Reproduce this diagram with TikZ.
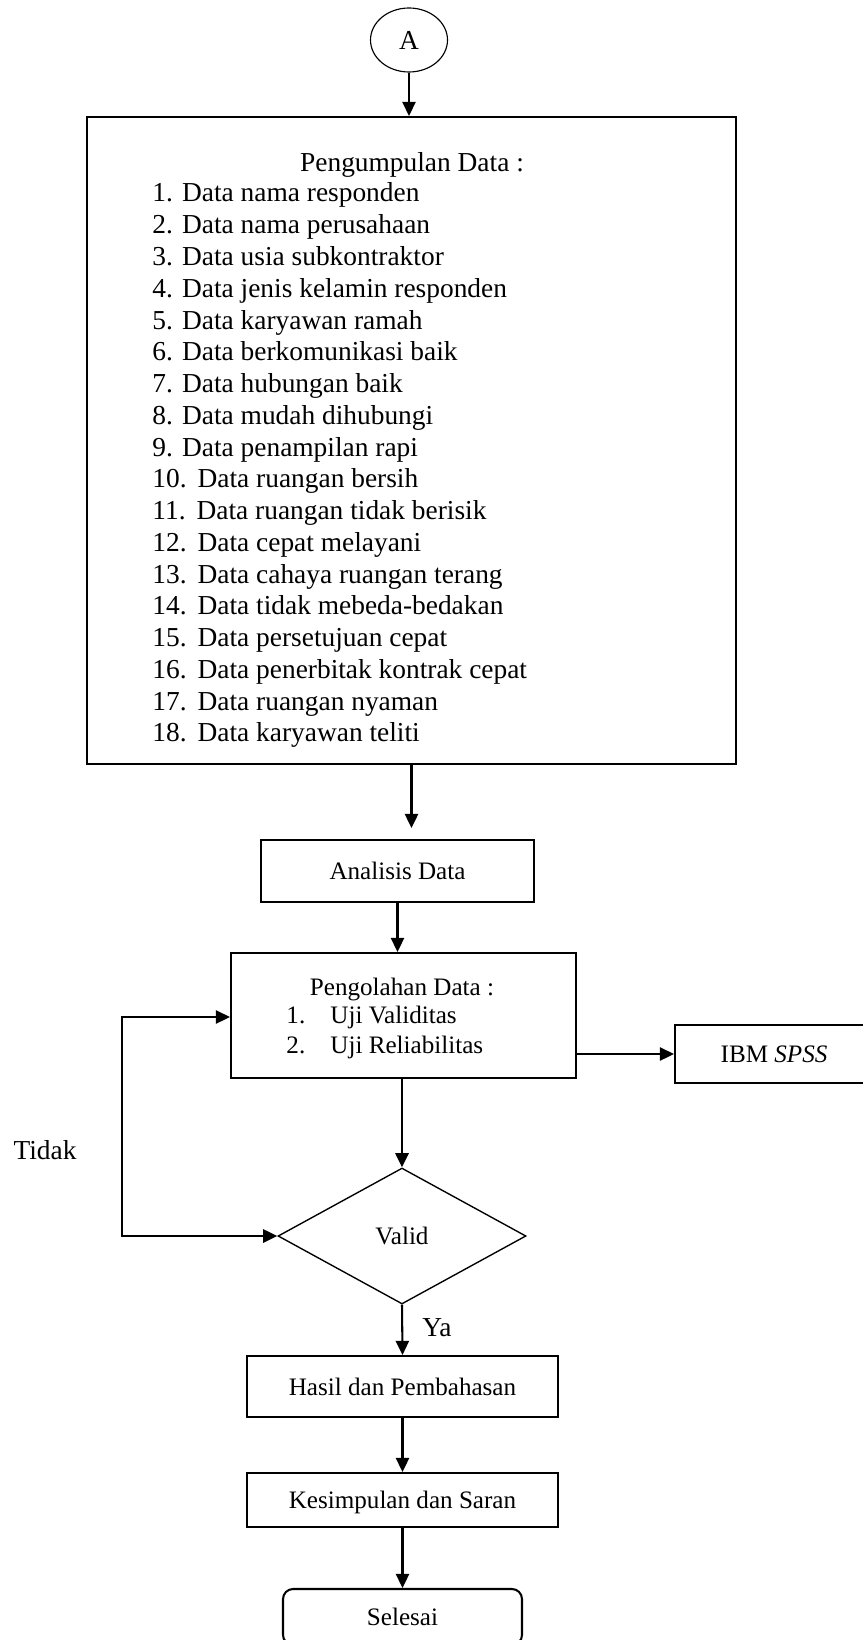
\documentclass[tikz,border=0pt]{standalone}
\usepackage{fontspec}
\setmainfont{Liberation Serif}
\usetikzlibrary{arrows.meta,shapes.geometric}
\newdimen\pxu \pxu=0.438pt
\tikzset{
  box/.style={draw, line width=0.9pt, inner sep=0pt, text depth=0pt, font=\fontsize{11}{13}\selectfont},
  arr/.style={-{Triangle[length=6.2pt,width=5.8pt]}, line width=0.9pt},
  arrboth/.style={{Triangle[length=6.2pt,width=5.8pt]}-{Triangle[length=6.2pt,width=5.8pt]}, line width=0.9pt},
  lbl/.style={anchor=base, inner sep=0pt},
  item/.style={anchor=base west, inner sep=0pt},
}
\begin{document}
\begin{tikzpicture}[x=0.438pt, y=-0.438pt, font=\fontsize{12}{14}\selectfont]
  \useasboundingbox (0,0) rectangle (863,1640);
  \node[draw, ellipse, line width=0.5pt, inner sep=0pt, minimum width=77\pxu, minimum height=64\pxu] (a) at (409,40) {A};
  \node[box, minimum width=649\pxu, minimum height=647\pxu] (data) at (411.5,440.5) {};
  \node[lbl] (datatitle) at (412,172) {Pengumpulan Data :};
  \node[item] (it1) at (152,202) {1. Data nama responden};
  \node[item] (it2) at (152,233.8) {2. Data nama perusahaan};
  \node[item] (it3) at (152,265.5) {3. Data usia subkontraktor};
  \node[item] (it4) at (152,297.3) {4. Data jenis kelamin responden};
  \node[item] (it5) at (152,329) {5. Data karyawan ramah};
  \node[item] (it6) at (152,360.8) {6. Data berkomunikasi baik};
  \node[item] (it7) at (152,392.6) {7. Data hubungan baik};
  \node[item] (it8) at (152,424.3) {8. Data mudah dihubungi};
  \node[item] (it9) at (152,456.1) {9. Data penampilan rapi};
  \node[item] (it10) at (152,487.8) {10.\hspace{0.4em}Data ruangan bersih};
  \node[item] (it11) at (152,519.6) {11.\hspace{0.4em}Data ruangan tidak berisik};
  \node[item] (it12) at (152,551.4) {12.\hspace{0.4em}Data cepat melayani};
  \node[item] (it13) at (152,583.1) {13.\hspace{0.4em}Data cahaya ruangan terang};
  \node[item] (it14) at (152,614.9) {14.\hspace{0.4em}Data tidak mebeda-bedakan};
  \node[item] (it15) at (152,646.6) {15.\hspace{0.4em}Data persetujuan cepat};
  \node[item] (it16) at (152,678.4) {16.\hspace{0.4em}Data penerbitak kontrak cepat};
  \node[item] (it17) at (152,710.2) {17.\hspace{0.4em}Data ruangan nyaman};
  \node[item] (it18) at (152,741.9) {18.\hspace{0.4em}Data karyawan teliti};
  \node[box, minimum width=273\pxu, minimum height=62\pxu] (ana) at (397.5,871) {Analisis Data};
  \node[box, minimum width=345\pxu, minimum height=125\pxu] (olah) at (403.5,1015.5) {};
  \node[lbl, font=\fontsize{11}{13}\selectfont] (olahtitle) at (402,995) {Pengolahan Data :};
  \node[item, font=\fontsize{11}{13}\selectfont] (ol1) at (286,1023) {1.\hspace{1em}Uji Validitas};
  \node[item, font=\fontsize{11}{13}\selectfont] (ol2) at (286,1053) {2.\hspace{1em}Uji Reliabilitas};
  \node[box, minimum width=198\pxu, minimum height=58\pxu] (spss) at (774,1054) {IBM \textit{SPSS}};
  \node[draw, diamond, line width=0.6pt, inner sep=0pt, text depth=0pt, minimum width=248\pxu, minimum height=136\pxu, font=\fontsize{11}{13}\selectfont] (valid) at (402,1236) {Valid};
  \node[lbl] (tidak) at (45,1159) {Tidak};
  \node[lbl] (ya) at (437,1336) {Ya};
  \node[box, minimum width=311\pxu, minimum height=61\pxu] (hasil) at (402.5,1386.5) {Hasil dan Pembahasan};
  \node[box, minimum width=311\pxu, minimum height=54\pxu] (kesim) at (402.5,1500) {Kesimpulan dan Saran};
  \node[box, rounded corners=4.4pt, minimum width=239\pxu, minimum height=56\pxu] (selesai) at (402.5,1617) {Selesai};
  \coordinate (tl) at (122,1017);
  \coordinate (bl) at (122,1236);
  \draw[arr] (a.south) -- (a.south |- data.north);
  \draw[arr, shorten >=4.8pt] (data.south) -- (data.south |- ana.north);
  \draw[arr] (ana.south) -- (ana.south |- olah.north);
  \draw[arr] (olah.east |- spss.west) -- (spss.west);
  \draw[arr] (valid.north |- olah.south) -- (valid.north);
  \draw[arrboth] (tl -| olah.west) -- (tl) -- (bl) -- (valid.west);
  \draw[arr] (valid.south) -- (hasil.north);
  \draw[arr] (hasil) -- (kesim);
  \draw[arr] (kesim) -- (selesai);
\end{tikzpicture}
\end{document}
